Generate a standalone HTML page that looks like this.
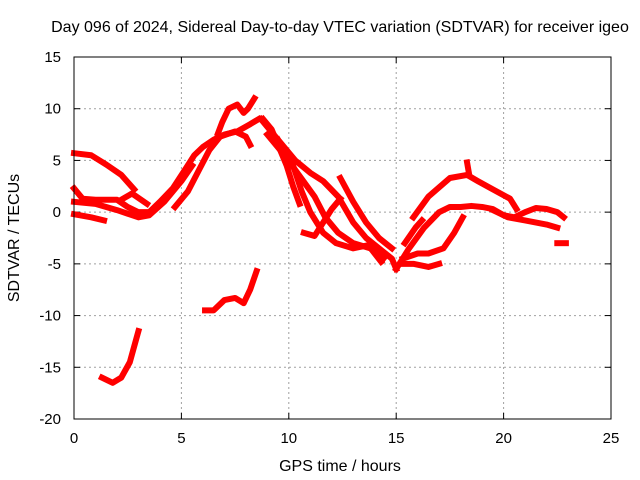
<!DOCTYPE html>
<html><head><meta charset="utf-8"><style>
html,body{margin:0;padding:0;background:#fff}
svg{display:block;font-family:"Liberation Sans",sans-serif}
</style></head><body>
<svg id="chart" width="640" height="480" viewBox="0 0 640 480">
<text x="340" y="32" font-size="16" text-anchor="middle">Day 096 of 2024, Sidereal Day-to-day VTEC variation (SDTVAR) for receiver igeo</text>
<g id="grid"></g>
<g id="ticks"></g>
<g id="series"></g>
<rect x="74" y="57" width="537" height="362" fill="none" stroke="#000" stroke-width="1"/>
<text x="340" y="471" font-size="16" text-anchor="middle">GPS time / hours</text>
<text transform="translate(19,238) rotate(-90)" font-size="16" text-anchor="middle">SDTVAR / TECUs</text>
</svg>
<script>
const xTicks=[0,5,10,15,20,25];
const yTicks=[15,10,5,0,-5,-10,-15,-20];
const traceA=[[0,5.7],[0.8,5.5],[1.5,4.6],[2.2,3.6],[2.8,2.2]];
const traceB=[[0,2.3],[0.4,1.3],[1,1.2],[2,1.2],[2.5,0.5],[3,0],[3.5,0],[4,1],[4.6,2.3],[5.2,4.2],[5.6,5.5],[6,6.3],[6.5,7],[7,7.5],[7.6,7.8],[8.2,8.5],[8.6,9]];
const traceC=[[0,1],[1,0.8],[2,0.2],[3,-0.5],[3.5,-0.3],[4.2,1],[5,3],[5.5,4.5]];
const traceD=[[0,-0.2],[0.8,-0.5],[1.4,-0.8]];
const traceE=[[2.2,1.2],[2.7,1.8],[3.4,0.8]];
const traceF=[[4.7,0.5],[5.3,2],[5.8,4],[6.3,6],[6.8,7.3],[7.5,7.8],[8,7.3],[8.2,6.5]];
const traceG=[[6.7,7.6],[6.9,8.7],[7.2,10],[7.6,10.4],[7.9,9.6],[8.1,10],[8.4,11]];
const traceH=[[8.8,9],[9.2,8],[9.5,6.5],[9.9,4.5],[10.2,2.5],[10.5,0.8]];
const traceI=[[8.7,9],[9.5,7],[10.3,5],[11,3.8],[11.6,3],[12.3,1.5],[13,-1],[13.6,-2.5],[14.2,-3.5],[14.8,-4.5],[15,-5.5]];
const traceJ=[[9,7.5],[9.8,5.5],[10.5,3.5],[11.2,1.5],[11.7,-0.5],[12.3,-2],[13,-3],[13.8,-3.5],[14.4,-4.5]];
const traceK=[[9.5,7],[10.2,4.5],[10.6,2],[11,0],[11.6,-2],[12.2,-3],[13,-3.5],[13.7,-3.2],[14.3,-4.8]];
const traceL=[[10.7,-2],[11.2,-2.3],[11.6,-1],[12,0.3],[12.4,1.3]];
const traceM=[[12.4,3.3],[13,1],[13.6,-1],[14.2,-2.5],[14.8,-3.5]];
const traceN=[[15.8,-0.5],[16.5,1.5],[17.5,3.3],[18.3,3.6],[18.8,3],[19.5,2.2],[20.3,1.3],[20.6,0.3]];
const traceN2=[[18.3,4.8],[18.4,3.6]];
const traceO=[[15,-5.5],[15.6,-3.5],[16.3,-1.5],[17,0],[17.5,0.5],[18,0.5],[18.5,0.6],[19,0.5],[19.5,0.3],[20,-0.3],[20.5,-0.5],[21,0],[21.5,0.4],[22,0.3],[22.5,0],[22.8,-0.5]];
const traceP=[[19.5,0.2],[20.2,-0.5],[21,-0.8],[22,-1.2],[22.5,-1.5]];
const traceQ=[[15.3,-4.5],[16,-4],[16.5,-4],[17.2,-3.5],[17.7,-2],[18.1,-0.5]];
const traceR=[[15.2,-5],[15.8,-5],[16.5,-5.3],[17,-5]];
const traceS=[[15.4,-3],[15.9,-1.5],[16.2,-0.8]];
const traceT=[[22.5,-3],[22.9,-3]];
const traceU=[[1.3,-16],[1.8,-16.5],[2.2,-16],[2.6,-14.5],[3,-11.5]];
const traceV=[[6.1,-9.5],[6.5,-9.5],[7,-8.5],[7.5,-8.3],[7.9,-8.8],[8.2,-7.5],[8.5,-5.7]];
const traces=[traceA,traceB,traceC,traceD,traceE,traceF,traceG,traceH,traceI,traceJ,traceK,traceL,traceM,traceN,traceN2,traceO,traceP,traceQ,traceR,traceS,traceT,traceU,traceV];
const X0=74,X1=611,Y0=57,Y1=419;
const sx=h=>X0+(h-0)/25*(X1-X0);
const sy=v=>Y0+(15-v)/35*(Y1-Y0);
const NS='http://www.w3.org/2000/svg';
const grid=document.getElementById('grid'),ticks=document.getElementById('ticks'),series=document.getElementById('series');
function mk(t,a,p){const e=document.createElementNS(NS,t);for(const k in a)e.setAttribute(k,a[k]);p.appendChild(e);return e;}
xTicks.forEach(t=>{
 const x=sx(t);
 if(t>0&&t<25){const g=mk('line',{x1:x,x2:x,y1:Y0,y2:Y1,stroke:'#a0a0a0','stroke-dasharray':'2,3'},grid);
 
 }
 const l=mk('text',{x:x,y:443,'font-size':15,'text-anchor':'middle'},ticks);l.textContent=t;
 
 
 mk('line',{x1:x,x2:x,y1:Y1,y2:Y1-6,stroke:'#000'},ticks);
 mk('line',{x1:x,x2:x,y1:Y0,y2:Y0+6,stroke:'#000'},ticks);
});
yTicks.forEach(t=>{
 const y=sy(t);
 if(t<15&&t>-20){const g=mk('line',{x1:X0,x2:X1,y1:y,y2:y,stroke:'#a0a0a0','stroke-dasharray':'2,3'},grid);
 
 }
 const l=mk('text',{x:61,y:y+5,'font-size':15,'text-anchor':'end'},ticks);l.textContent=t;
 
 
 mk('line',{x1:X0,x2:X0+6,y1:y,y2:y,stroke:'#000'},ticks);
 mk('line',{x1:X1,x2:X1-6,y1:y,y2:y,stroke:'#000'},ticks);
});
traces.forEach((tr,i)=>{
 const p=mk('polyline',{points:tr.map(d=>sx(d[0])+','+sy(d[1])).join(' '),fill:'none',stroke:'#ff0000','stroke-width':6,'stroke-linejoin':'round','stroke-linecap':'square'},series);
 
 
});
</script>
</body></html>
